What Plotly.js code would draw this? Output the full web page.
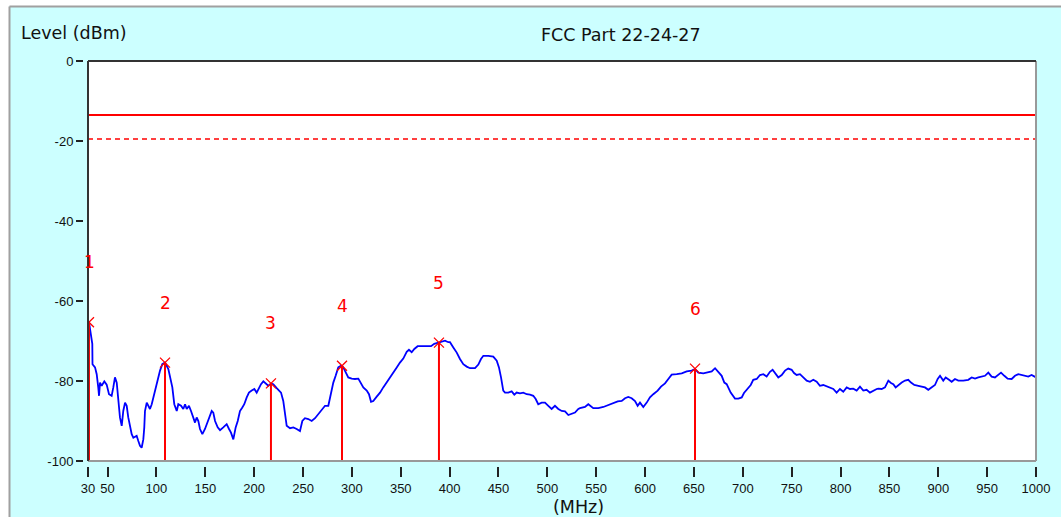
<!DOCTYPE html>
<html>
<head>
<meta charset="utf-8">
<script src="https://cdn.plot.ly/plotly-3.0.1.min.js"></script>
<style>html,body{margin:0;padding:0;background:#fff;}#chart{width:1061px;height:517px;}</style>
</head>
<body>
<div id="chart"></div>
<script>
const freq = [30,31.0,34.4,34.6,37.2,38.9,40.5,41.3,42.3,44.0,46.7,49.1,51.5,54.2,55.9,57.6,59.4,61.0,62.7,64.5,66.1,67.9,69.6,71.2,73.0,74.7,76.4,79.8,81.5,83.2,84.9,86.6,87.6,88.3,90.1,91.7,93.4,95.2,96.8,98.6,100.3,101.9,103.7,106.0,108.8,112.2,113.9,116.3,118.3,120.8,122.4,125.2,127.5,129.3,131.0,133.3,135.4,137.7,139.5,141.2,142.9,144.6,147.0,149.7,153.1,156.6,158.2,160.0,162.7,165.1,168.4,171.9,174.3,176.3,178.7,181.1,183.2,185.5,187.9,189.9,192.4,194.7,197.5,200.2,202.6,204.3,207.0,209.4,211.8,214.5,217.2,219.6,223.1,225.4,227.5,229.8,231.6,233.3,236.7,240.1,243.5,246.9,249.3,252.0,255.4,258.9,262.3,265.6,269.1,272.5,275.9,278.6,281.0,283.4,286.1,288.6,289.9,291.2,293.7,296.3,299.8,303.2,306.6,309.3,311.7,315.2,317.5,319.6,321.9,325.4,328.8,332.1,335.6,339.0,342.4,345.9,349.2,352.6,356.1,358.4,361.2,363.9,367.3,371.4,376.6,381.0,384.3,387.8,389.1,391.9,395.3,398.7,400.4,403.8,407.3,410.6,414.0,417.5,420.9,426.0,429.4,432.1,434.5,439.6,444.7,448.2,450.5,452.6,454.9,456.7,460.0,463.5,466.2,468.6,472.0,475.4,478.9,482.3,485.6,488.1,490.7,494.2,497.6,501.0,504.4,507.8,511.2,514.7,518.1,521.5,524.9,528.3,531.7,533.4,538.5,541.9,547.0,552.1,557.3,562.4,567.5,572.0,576.1,579.5,582.8,586.3,589.7,592.4,594.8,598.2,601.7,605.0,608.4,612.9,616.3,620.4,623.8,627.2,632.4,637.5,642.6,647.7,651.1,654.5,659.6,664.7,668.2,671.6,674.9,678.4,681.1,683.5,687.6,692.0,695.4,698.9,701.2,704.6,708.1,710.7,714.2,717.6,721.0,724.4,727.8,730.5,732.9,736.3,739.8,743.2,746.5,750.0,752.4,755.1,758.5,761.9,765.4,768.7,772.1,775.6,778.9,782.3,785.8,789.2,792.6,796.0,799.4,802.8,806.3,809.7,813.0,816.5,819.9,823.3,826.7,830.1,833.5,837.0,838.6,842.1,845.5,848.9,851.6,854.0,856.4,859.1,862.6,866.0,869.3,872.1,875.5,879.6,883.0,886.4,889.8,893.3,896.6,899.4,901.8,905.1,907.6,911.0,913.7,917.1,920.5,925.6,930.7,934.2,937.6,941.0,944.4,947.8,951.2,954.6,958.0,961.4,964.2,967.6,971.0,975.1,978.5,981.9,985.4,988.7,992.1,995.5,999.0,1000];

const level = [-66,-65.3,-70.7,-75.8,-76.6,-78.3,-81.6,-83.7,-80.4,-81.2,-80.1,-80.9,-83.3,-83.7,-81.6,-79.1,-80.4,-85.0,-89.1,-91.2,-87.5,-85.4,-86.2,-89.1,-91.6,-93.3,-94.2,-93.7,-95.0,-96.2,-96.7,-94.6,-91.6,-87.5,-85.4,-86.2,-87.0,-85.8,-84.1,-82.4,-81.2,-79.1,-77.4,-75.8,-75.4,-77.0,-79.1,-81.6,-85.8,-87.5,-85.8,-86.2,-87.0,-85.8,-87.0,-86.2,-87.5,-89.5,-90.4,-89.1,-90.0,-92.0,-93.3,-92.0,-90.0,-87.5,-87.9,-90.0,-91.6,-92.3,-91.6,-90.8,-92.0,-92.9,-94.6,-91.6,-90.0,-87.5,-86.6,-85.8,-84.1,-82.9,-82.4,-82.0,-82.9,-82.0,-80.8,-80.1,-80.6,-81.2,-80.6,-80.8,-81.8,-82.3,-82.9,-85.0,-88.3,-91.2,-91.8,-91.6,-92.0,-92.5,-90.0,-89.3,-89.5,-90.0,-89.3,-88.3,-87.0,-86.2,-86.2,-82.9,-80.4,-78.7,-76.6,-76.2,-76.2,-76.6,-77.9,-79.1,-79.4,-79.5,-79.4,-80.4,-81.6,-82.4,-83.3,-85.2,-85.0,-83.9,-82.9,-81.6,-80.4,-79.1,-77.9,-76.6,-75.4,-74.4,-72.7,-72.2,-72.8,-72.0,-71.3,-71.3,-71.3,-71.3,-70.7,-70.5,-70.4,-70.2,-69.9,-70.3,-70.3,-71.6,-72.9,-74.5,-75.8,-76.4,-76.8,-76.8,-75.9,-74.5,-73.7,-73.7,-73.9,-74.9,-76.6,-79.1,-82.4,-82.9,-82.9,-82.6,-83.4,-82.9,-83.1,-82.9,-83.3,-83.4,-83.7,-84.5,-85.8,-85.4,-85.4,-86.2,-87.0,-86.2,-87.0,-87.5,-87.6,-88.5,-88.1,-87.9,-87.0,-86.8,-86.5,-85.8,-86.8,-86.8,-86.5,-86.0,-85.6,-85.1,-85.0,-84.3,-84.0,-84.3,-85.0,-86.2,-85.4,-86.5,-85.4,-84.1,-83.3,-82.4,-81.4,-80.6,-79.5,-78.4,-78.3,-78.1,-77.6,-77.4,-77.0,-77.9,-78.1,-77.9,-77.6,-76.8,-77.6,-78.7,-80.4,-80.8,-82.9,-84.4,-84.4,-84.1,-83.0,-82.0,-81.0,-79.7,-79.5,-78.5,-78.3,-78.9,-77.7,-77.2,-78.0,-79.1,-78.5,-77.4,-76.9,-77.2,-78.0,-78.5,-78.3,-79.1,-79.9,-80.2,-79.7,-80.2,-81.2,-81.0,-81.4,-81.6,-82.0,-82.9,-82.0,-82.7,-81.6,-82.0,-81.9,-82.4,-81.4,-82.4,-82.2,-82.9,-82.4,-82.0,-81.9,-82.0,-81.6,-79.9,-80.5,-80.8,-81.6,-81.0,-80.4,-79.9,-79.7,-80.4,-81.0,-81.2,-81.4,-81.6,-82.2,-81.6,-81.0,-79.5,-78.7,-79.9,-79.1,-79.7,-80.2,-79.5,-79.9,-79.9,-79.7,-79.1,-79.4,-79.1,-78.9,-78.7,-77.9,-78.9,-79.1,-78.5,-77.9,-78.7,-79.4,-79.5,-78.7,-78.3,-78.5,-78.7,-78.9,-78.5,-79.1,-79.1];

const markerIds = ["1","2","3","4","5","6"];
const markerFreq = [31.0, 108.8, 217.2, 289.9, 389.1, 651.1];
const markerLevel = [-65.3, -75.4, -80.6, -76.2, -70.4, -76.9];

const limitLevel = -13.5;
const marginLevel = -19.5;
const freqRange = [30, 1000];
const levelRange = [-100, 0];

const xTickVals = [30,50,100,150,200,250,300,350,400,450,500,550,600,650,700,750,800,850,900,950,1000];
const yTickVals = [0,-20,-40,-60,-80,-100];
const yTickText = ["0","-20","-40","-60","-80","-100"];

const chartTitle = "FCC Part 22-24-27";
const yTitle = "Level (dBm)";
const xTitle = "(MHz)";

// build stems for markers
const stemX = [], stemY = [];
markerFreq.forEach((f, i) => { stemX.push(f, f, null); stemY.push(levelRange[0], markerLevel[i], null); });

const traces = [
  {x: freqRange, y: [limitLevel, limitLevel], mode: 'lines', line: {color: '#ff0000', width: 2}, hoverinfo: 'skip'},
  {x: freqRange, y: [marginLevel, marginLevel], mode: 'lines', line: {color: '#ff0000', width: 1.5, dash: '5px,4px'}, hoverinfo: 'skip'},
  {x: freq, y: level, mode: 'lines', line: {color: '#0000ff', width: 1.8}},
  {x: stemX, y: stemY, mode: 'lines', line: {color: '#ff0000', width: 2}, hoverinfo: 'skip'},
  {x: markerFreq, y: markerLevel, mode: 'markers', marker: {symbol: 'x-thin', size: 10, line: {color: '#ff0000', width: 1.3}, color: '#ff0000'}}
];

const W = 1061, H = 517;
const L = 83, R = 25, T = 61, B = 51;
const pw = W - L - R, ph = H - T - B;
const px = v => (v - L) / pw;
const py = v => (H - B - v) / ph;

const annotations = [
  {text: chartTitle, xref: 'paper', yref: 'paper', x: px(621), y: py(35), xanchor: 'center', yanchor: 'middle', showarrow: false, font: {family: 'DejaVu Sans', size: 17.5, color: '#111'}},
  {text: yTitle, xref: 'paper', yref: 'paper', x: px(19), y: py(33), xanchor: 'left', yanchor: 'middle', showarrow: false, font: {family: 'DejaVu Sans', size: 17.5, color: '#111'}},
  {text: xTitle, xref: 'paper', yref: 'paper', x: px(578), y: py(507), xanchor: 'center', yanchor: 'middle', showarrow: false, font: {family: 'DejaVu Sans', size: 17.5, color: '#111'}}
];
markerIds.forEach((id, i) => {
  annotations.push({text: id, x: markerFreq[i] + (i === 0 ? 1 : 0), y: markerLevel[i] + 15, xref: 'x', yref: 'y', showarrow: false, xanchor: 'center', yanchor: 'middle', font: {family: 'DejaVu Sans', size: 17, color: '#ff0000'}});
});

const shapes = [
  // white strips outside the panel
  {type: 'rect', xref: 'paper', yref: 'paper', x0: px(-5), x1: px(9), y0: py(H + 5), y1: py(-5), fillcolor: '#ffffff', line: {width: 0}},
  {type: 'rect', xref: 'paper', yref: 'paper', x0: px(-5), x1: px(W + 5), y0: py(6), y1: py(-5), fillcolor: '#ffffff', line: {width: 0}},
  {type: 'line', xref: 'paper', yref: 'paper', x0: px(9.5), x1: px(9.5), y0: py(6.5), y1: py(H + 5), line: {color: '#a0a0a0', width: 2}},
  {type: 'line', xref: 'paper', yref: 'paper', x0: px(9.5), x1: px(W + 5), y0: py(6.5), y1: py(6.5), line: {color: '#a0a0a0', width: 2}},
  // plot frame
  {type: 'line', xref: 'x domain', yref: 'y domain', x0: 0, x1: 1, y0: 0, y1: 0, line: {color: '#999999', width: 2}},
  {type: 'line', xref: 'x domain', yref: 'y domain', x0: 1, x1: 1, y0: 0, y1: 1, line: {color: '#999999', width: 2}},
  {type: 'line', xref: 'x domain', yref: 'y domain', x0: 0, x1: 1, y0: 1, y1: 1, line: {color: '#333333', width: 2}},
  {type: 'line', xref: 'x domain', yref: 'y domain', x0: 0, x1: 0, y0: 0, y1: 1, line: {color: '#333333', width: 2}}
];

const layout = {
  width: W, height: H,
  margin: {l: L, r: R, t: T, b: B, pad: 0},
  paper_bgcolor: '#ccffff',
  plot_bgcolor: '#ffffff',
  showlegend: false,
  xaxis: {
    range: freqRange, domain: [5 / pw, 1], anchor: 'free', position: 0,
    tickmode: 'array', tickvals: xTickVals, ticktext: xTickVals.map(String),
    ticks: 'outside', ticklen: 10, tickwidth: 2, tickcolor: '#222',
    showgrid: false, zeroline: false, showline: false,
    tickfont: {family: 'Liberation Sans', size: 13, color: '#111'}
  },
  yaxis: {
    range: levelRange, domain: [5 / ph, 1], anchor: 'free', position: 0,
    tickmode: 'array', tickvals: yTickVals, ticktext: yTickText,
    ticks: 'outside', ticklen: 7, tickwidth: 2, tickcolor: '#222',
    showgrid: false, zeroline: false, showline: false,
    tickfont: {family: 'Liberation Sans', size: 13, color: '#111'}
  },
  annotations: annotations,
  shapes: shapes
};

Plotly.newPlot('chart', traces, layout, {displayModeBar: false, staticPlot: true});
</script>
</body>
</html>
